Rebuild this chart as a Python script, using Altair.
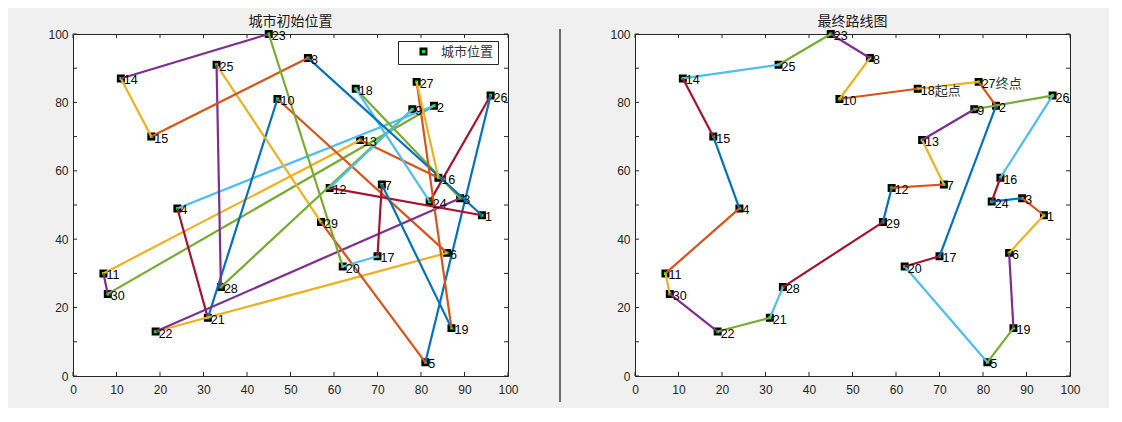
import altair as alt
import pandas as pd

# city coordinates (city id = index + 1)
city_x = [94, 83, 89, 24, 81, 86, 71, 54, 78, 47, 7, 59, 66, 11, 18,
          84, 70, 65, 87, 62, 31, 19, 45, 82, 33, 96, 79, 34, 57, 8]
city_y = [47, 79, 52, 49, 4, 36, 56, 93, 78, 81, 30, 55, 69, 87, 70,
          58, 35, 84, 14, 32, 17, 13, 100, 51, 91, 82, 86, 26, 45, 24]

# visiting orders
init_route = [16, 13, 11, 30, 2, 4, 21, 10, 6, 22, 3, 18, 24, 26, 5,
              29, 25, 28, 9, 12, 1, 8, 15, 14, 23, 20, 17, 7, 19, 27]
final_route = [18, 10, 8, 23, 25, 14, 15, 4, 11, 30, 22, 21, 28, 29, 12,
               7, 13, 9, 26, 16, 24, 3, 1, 6, 19, 5, 20, 17, 2, 27]

mark_cities = [18, 27]
mark_texts = ["起点", "终点"]

tick_values = [0, 10, 20, 30, 40, 50, 60, 70, 80, 90, 100]
legend_label = "城市位置"
titles = ["城市初始位置", "最终路线图"]

line_colors = ["#0072BD", "#D95319", "#EDB120", "#7E2F8E",
               "#77AC30", "#4DBEEE", "#A2142F"]

W, H = 435, 342
TXT = "#262626"

cities = pd.DataFrame({
    "id": [str(i + 1) for i in range(len(city_x))],
    "x": city_x, "y": city_y, "series": legend_label,
})
ticks_df = pd.DataFrame({"t": tick_values})


def seg_frame(route):
    rows = []
    n = len(route)
    for k in range(n):
        a, b = route[k], route[(k + 1) % n]
        c = str((k + 1) % 7)
        for p in (a, b):
            rows.append({"seg": k, "x": city_x[p - 1], "y": city_y[p - 1], "c": c, "o": 0 if p == a else 1})
    return pd.DataFrame(rows)


xs = alt.Scale(domain=[0, 100], nice=False, zero=False)
ys = alt.Scale(domain=[0, 100], nice=False, zero=False)
x_axis = alt.Axis(values=tick_values, tickSize=0, domain=False, grid=False,
                  labelPadding=8, labelFontSize=12, labelColor=TXT,
                  labelFont="Liberation Sans", title=None, labelFlush=False)
y_axis = alt.Axis(values=tick_values, tickSize=0, domain=False, grid=False,
                  labelPadding=5, labelFontSize=12, labelColor=TXT,
                  labelFont="Liberation Sans", title=None)


def panel(route, title, with_legend, with_marks):
    X = alt.X("x:Q", scale=xs, axis=x_axis)
    Y = alt.Y("y:Q", scale=ys, axis=y_axis)
    base = alt.Chart(cities)
    if with_legend:
        fill = alt.Fill("series:N", scale=alt.Scale(domain=[legend_label], range=["#00ff00"]),
                        legend=alt.Legend(title=None, orient="none", legendX=325, legendY=7,
                                          fillColor="white", strokeColor="#262626",
                                          padding=4, symbolType="square", symbolSize=30,
                                          symbolStrokeColor="black", symbolStrokeWidth=2.5,
                                          symbolOffset=15, labelOffset=11,
                                          labelFont="Noto Sans CJK SC", labelFontSize=13,
                                          labelColor="#333333", cornerRadius=0))
    else:
        fill = alt.value("#00ff00")
    pts = base.mark_point(shape="square", filled=True, size=30, stroke="black",
                          strokeWidth=2.5, opacity=1).encode(x=X, y=Y, fill=fill)
    lines = alt.Chart(seg_frame(route)).mark_line(strokeWidth=2.2).encode(
        x=alt.X("x:Q", scale=xs, axis=x_axis), y=alt.Y("y:Q", scale=ys, axis=y_axis),
        detail="seg:N", order="o:Q",
        color=alt.Color("c:N", scale=alt.Scale(domain=[str(i) for i in range(7)], range=line_colors),
                        legend=None))
    labels = base.mark_text(align="left", baseline="middle", dx=3, dy=2, fontSize=12.5,
                            font="Liberation Sans", color="black").encode(
        x=alt.X("x:Q", scale=xs), y=alt.Y("y:Q", scale=ys), text="id:N")
    tb = alt.Chart(ticks_df)
    t_bottom = tb.mark_rule(color=TXT, strokeWidth=1).encode(
        x=alt.X("t:Q", scale=xs), y=alt.value(H), y2=alt.value(H - 4))
    t_top = tb.mark_rule(color=TXT, strokeWidth=1).encode(
        x=alt.X("t:Q", scale=xs), y=alt.value(0), y2=alt.value(4))
    t_left = tb.mark_rule(color=TXT, strokeWidth=1).encode(
        y=alt.Y("t:Q", scale=ys), x=alt.value(0), x2=alt.value(4))
    t_right = tb.mark_rule(color=TXT, strokeWidth=1).encode(
        y=alt.Y("t:Q", scale=ys), x=alt.value(W), x2=alt.value(W - 4))
    layers = [t_bottom, t_top, t_left, t_right, pts, lines, labels]
    if with_legend:
        # window divider between the two figure windows
        layers.append(alt.Chart(ticks_df.head(1)).mark_rule(color="#6e6e6e", strokeWidth=2).encode(
            x=alt.value(W + 52), y=alt.value(-5), y2=alt.value(H + 26)))
    if with_marks:
        mdf = pd.DataFrame({"x": [city_x[c - 1] for c in mark_cities],
                            "y": [city_y[c - 1] for c in mark_cities],
                            "t": mark_texts})
        layers.append(alt.Chart(mdf).mark_text(align="left", baseline="middle", dx=17, dy=2,
                                               fontSize=13, font="Noto Sans CJK SC",
                                               color="#333333").encode(
            x=alt.X("x:Q", scale=xs), y=alt.Y("y:Q", scale=ys), text="t:N"))
    return alt.layer(*layers).properties(
        width=W, height=H,
        title=alt.TitleParams(title, font="Noto Sans CJK SC", fontSize=14, fontWeight="normal",
                              color="#1a1a1a", offset=-3, anchor="middle"))


left = panel(init_route, titles[0], True, False)
right = panel(final_route, titles[1], False, True)

chart = alt.hconcat(left, right, spacing=127, bounds="flush").resolve_scale(
    color="independent", fill="independent").properties(
    padding={"left": 39, "top": 6, "right": 28, "bottom": 4},
    background="#f0f0f0",
).configure_view(stroke=TXT, strokeWidth=1, fill="white")

chart.save("out.html", embed_options={"renderer": "svg", "actions": False})
